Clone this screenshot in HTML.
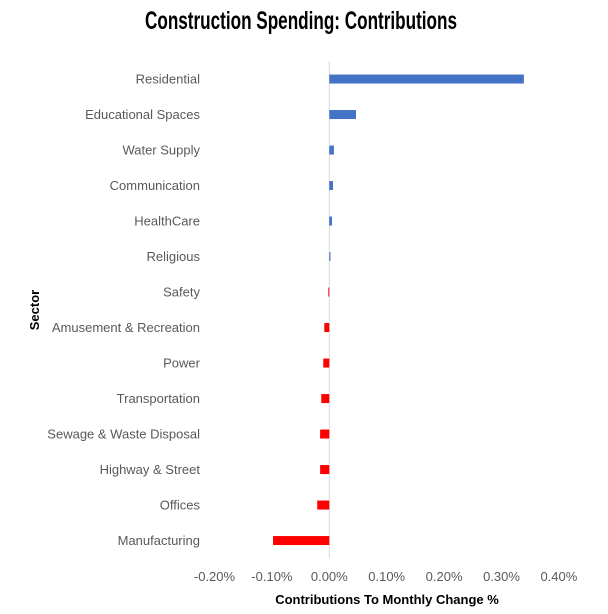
<!DOCTYPE html>
<html><head><meta charset="utf-8"><style>
body{margin:0;background:#fff;}
svg{display:block;font-family:"Liberation Sans",sans-serif;}
</style></head><body>
<svg id="chart" width="608" height="614">
<text x="301" y="29" text-anchor="middle" font-family="'Liberation Sans Narrow','Liberation Sans',sans-serif" font-weight="bold" font-size="25" fill="#000" textLength="312" lengthAdjust="spacingAndGlyphs">Construction Spending: Contributions</text>
<text transform="translate(39,310) rotate(-90)" text-anchor="middle" font-weight="bold" font-size="13" fill="#000">Sector</text>
<text x="387" y="604" text-anchor="middle" font-weight="bold" font-size="13" fill="#000">Contributions To Monthly Change %</text>
<g id="plot"></g>
</svg>
<script>
const categories=["Residential","Educational Spaces","Water Supply","Communication","HealthCare","Religious","Safety","Amusement & Recreation","Power","Transportation","Sewage & Waste Disposal","Highway & Street","Offices","Manufacturing"];
const values=[0.339,0.0465,0.008,0.0064,0.0047,0.002,-0.0017,-0.0087,-0.0105,-0.014,-0.016,-0.016,-0.021,-0.098];
const ticks=[-0.2,-0.1,0,0.1,0.2,0.3,0.4];
const tickLabels=["-0.20%","-0.10%","0.00%","0.10%","0.20%","0.30%","0.40%"];
const NS="http://www.w3.org/2000/svg";
const plotG=document.getElementById("plot");
const xScale=v=>329.3+v*574;
const plotTop=61.3,band=35.5;
const yScale=i=>plotTop+band*(i+0.5);
function mk(t,a){const e=document.createElementNS(NS,t);for(const k in a)e.setAttribute(k,a[k]);plotG.appendChild(e);return e;}
const zl=mk("line",{x1:xScale(0),x2:xScale(0),y1:plotTop,y2:plotTop+band*categories.length,stroke:"#d9d9d9","stroke-width":1});


ticks.forEach((t,i)=>{
 const tx=mk("text",{x:xScale(t),y:581,"text-anchor":"middle","font-size":13,fill:"#595959"});
 tx.textContent=tickLabels[i];
 
 
});
categories.forEach((c,i)=>{
 const v=values[i];
 const r=mk("rect",{x:Math.min(xScale(0),xScale(v)),y:yScale(i)-4.5,width:Math.max(1,Math.abs(xScale(v)-xScale(0))),height:9,fill:v>=0?"#4472c4":"#ff0000"});
 
 
 const l=mk("text",{x:200,y:yScale(i)+4.5,"text-anchor":"end","font-size":13,fill:"#595959"});
 l.textContent=c;
 
 
});
</script>
</body></html>
